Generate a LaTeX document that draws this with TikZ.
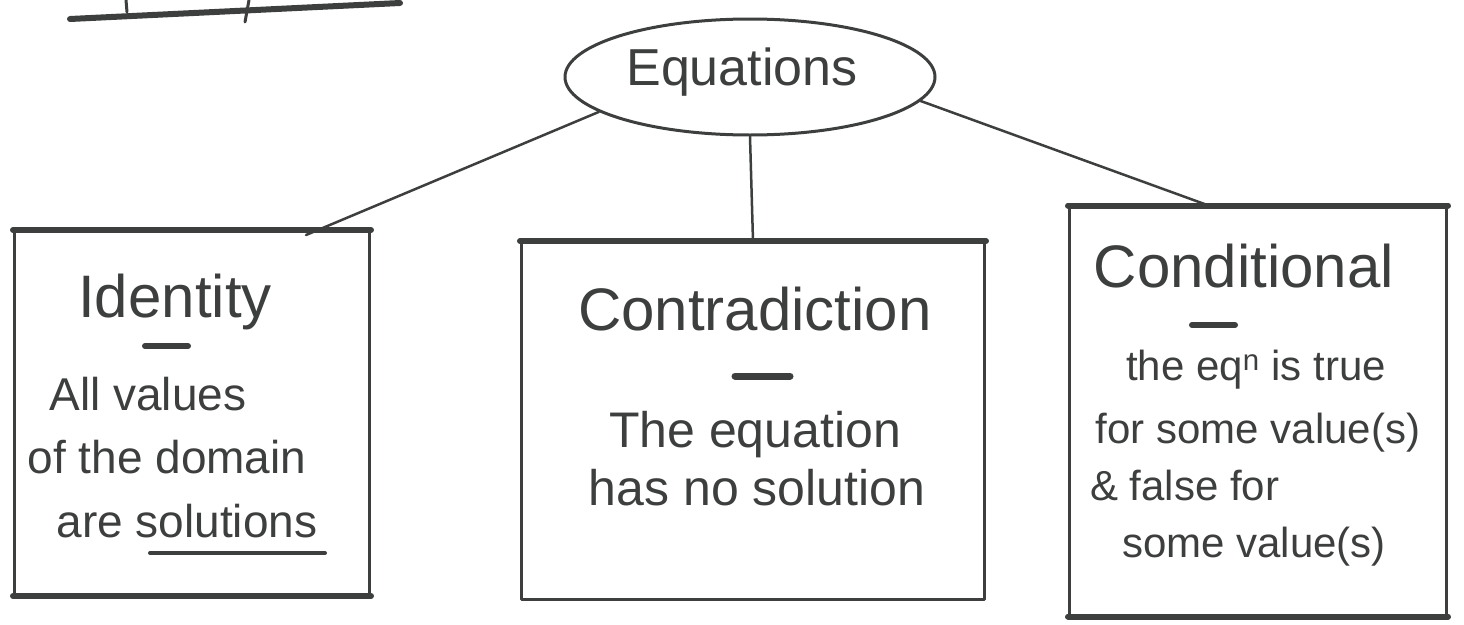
\documentclass[tikz,border=0pt]{standalone}
\usepackage{fontspec}
\setmainfont{Liberation Sans}
\usetikzlibrary{shapes.geometric,calc}
\definecolor{ink}{HTML}{3C3F3D}
\begin{document}
\begin{tikzpicture}[x=1pt,y=-1pt,
  ink/.style={draw=ink, line width=3pt, line cap=round, line join=round},
  box/.style={ink, rectangle, inner sep=0pt},
  title/.style={text=ink, font=\fontsize{60}{62}\selectfont, anchor=base, inner sep=0pt},
  body/.style={text=ink, font=\fontsize{46}{50}\selectfont, anchor=base, inner sep=0pt},
  bodyc/.style={text=ink, font=\fontsize{42}{46}\selectfont, anchor=base, inner sep=0pt},
  heavy/.style={draw=ink, line width=6pt, line cap=round}]
\useasboundingbox (0,0) rectangle (1464,624);
% partial heading at top-left (cut off)
\draw[heavy] (70,19) -- (400,3);
\draw[ink] (126,0) -- (127,12);
\draw[ink] (249,0) -- (245,22);
% root
\node[ink, ellipse, minimum width=370, minimum height=116, inner sep=0pt] (eq) at (750,77) {};
\node[text=ink, font=\fontsize{52}{56}\selectfont, inner sep=0pt] (eqt) at (742,72) {Equations};
% boxes
\node[box, minimum width=355, minimum height=363] (id) at (192,413) {};
\node[box, minimum width=463, minimum height=357] (co) at (753,421) {};
\node[box, minimum width=377, minimum height=408] (cd) at (1258,411) {};
\draw[heavy] (id.north west) -- (id.north east);
\draw[heavy] (id.south west) -- (id.south east);
\draw[heavy] (co.north west) -- (co.north east);
\draw[heavy] (cd.north west) -- (cd.north east);
\draw[heavy] (cd.south west) -- (cd.south east);
% connectors
\draw[ink, line width=2.5pt] (eq.193) -- ($(id.north east)+(-65,5)$);
\draw[ink, line width=2.5pt] (eq.south) -- (co.north);
\draw[ink, line width=2.5pt] (eq.352) -- ($(cd.north west)!0.37!(cd.north east)$);
% Identity
\node[title] (idt) at (175,317) {Identity};
\node[body] (id1) at (148,410) {All values};
\node[body] (id2) at (167,473) {of the domain};
\node[body] (id3) at (187,537) {are solutions};
\draw[heavy] (145,346) -- (188,346);
\draw[heavy, line width=4pt] (150,553) -- (325,553);
% Contradiction
\node[title] (cot) at (755,330) {Contradiction};
\node[body, font=\fontsize{50}{54}\selectfont] (co1) at (755,447) {The equation};
\node[body, font=\fontsize{50}{54}\selectfont] (co2) at (757,505) {has no solution};
\draw[heavy, line width=7pt] (735,376) -- (790,376);
% Conditional
\node[title] (cdt) at (1244,287) {Conditional};
\node[bodyc] (cd1) at (1256,380) {the eq\textsuperscript{n} is true};
\node[bodyc] (cd2) at (1258,443) {for some value(s)};
\node[bodyc, anchor=base west] (cd3) at (1090,500) {\& false for};
\node[bodyc] (cd4) at (1254,557) {some value(s)};
\draw[heavy] (1192,325) -- (1235,325);
\end{tikzpicture}
\end{document}
